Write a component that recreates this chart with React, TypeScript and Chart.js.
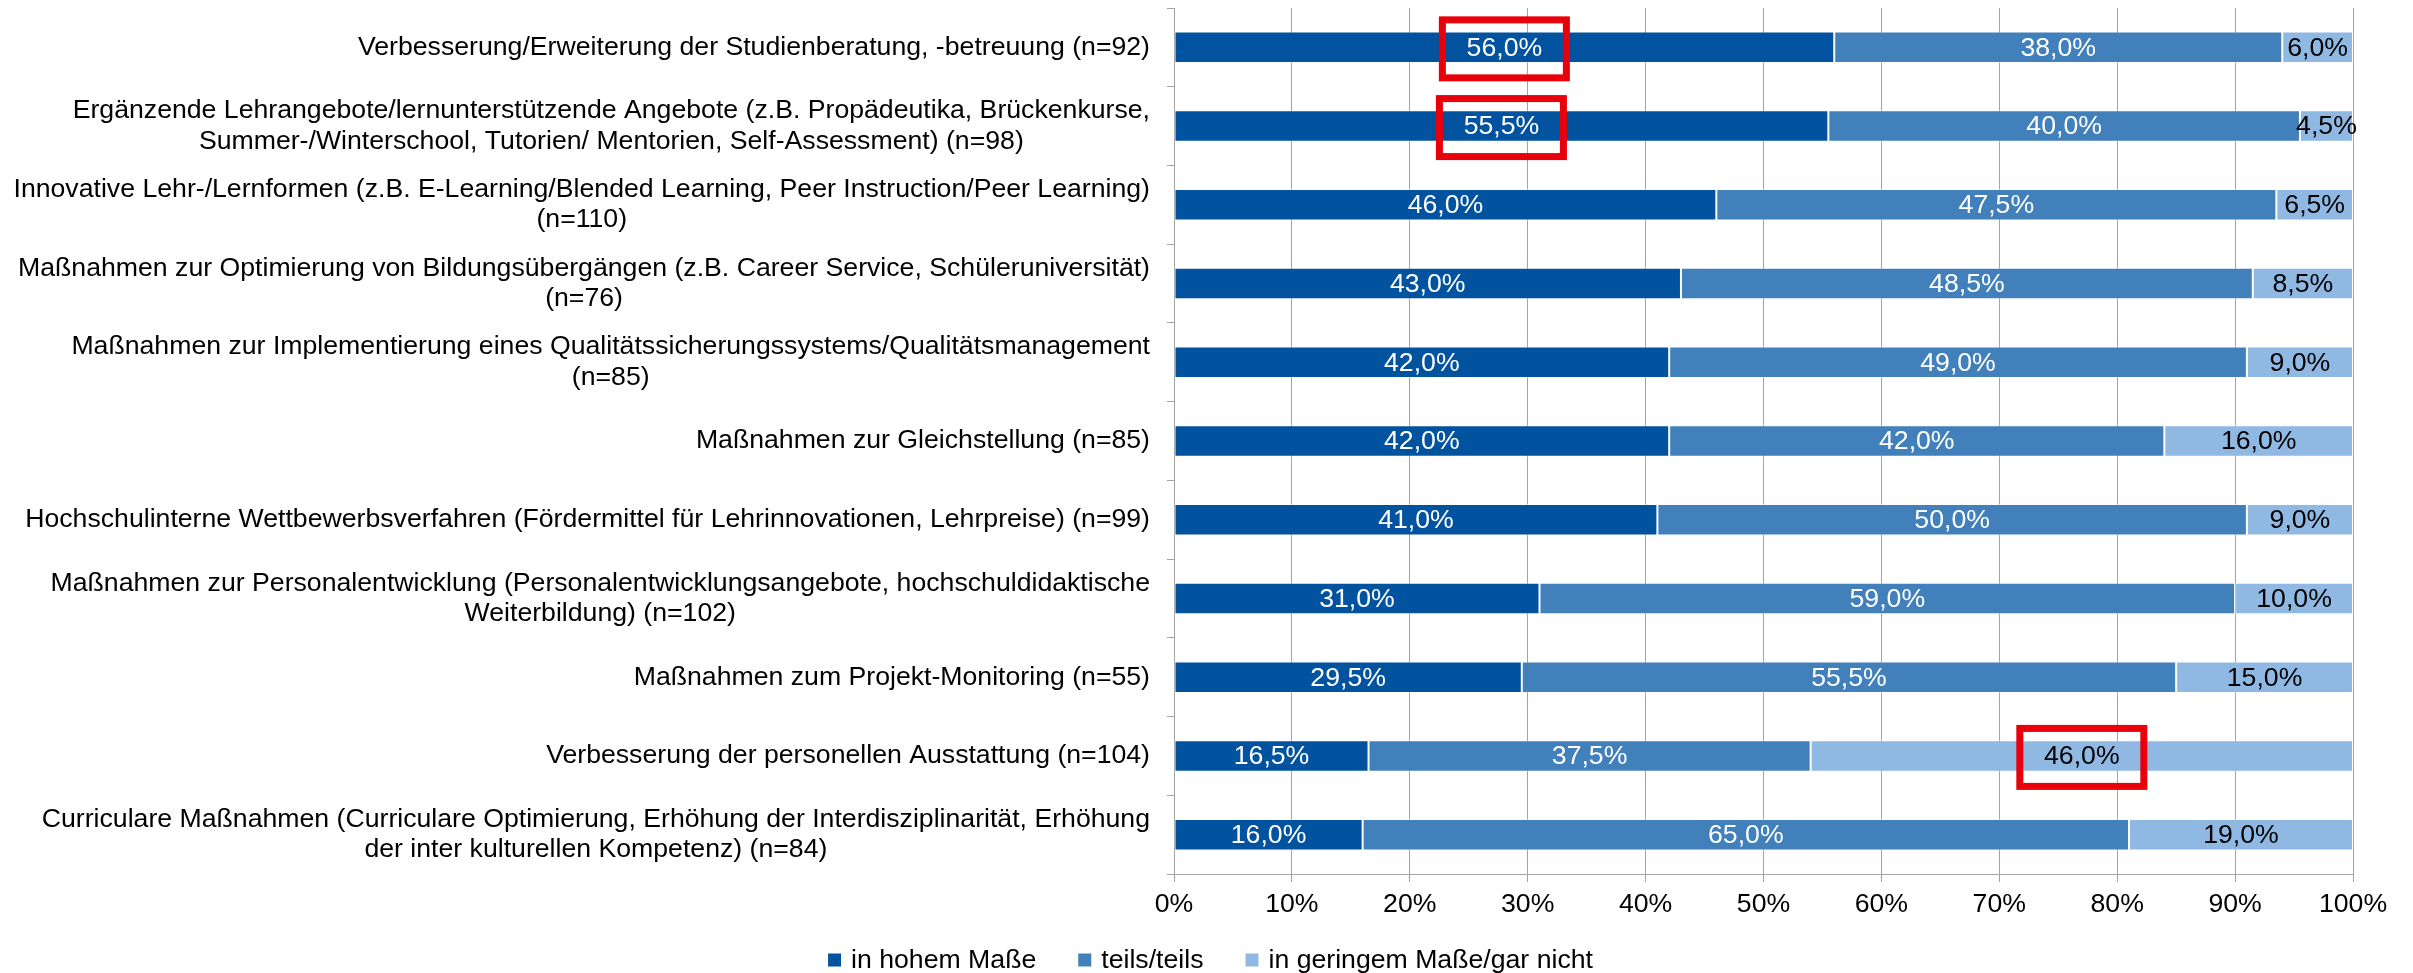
import React, { useEffect, useRef } from 'react';
import { Chart, registerables } from 'chart.js';

Chart.register(...registerables);

// ---------- data ----------
const categories: string[][] = [
  ['Verbesserung/Erweiterung der Studienberatung, -betreuung (n=92)'],
  ['Ergänzende Lehrangebote/lernunterstützende Angebote (z.B. Propädeutika, Brückenkurse,', 'Summer-/Winterschool, Tutorien/ Mentorien, Self-Assessment) (n=98)'],
  ['Innovative Lehr-/Lernformen (z.B. E-Learning/Blended Learning, Peer Instruction/Peer Learning)', '(n=110)'],
  ['Maßnahmen zur Optimierung von Bildungsübergängen (z.B. Career Service, Schüleruniversität)', '(n=76)'],
  ['Maßnahmen zur Implementierung eines Qualitätssicherungssystems/Qualitätsmanagement', '(n=85)'],
  ['Maßnahmen zur Gleichstellung (n=85)'],
  ['Hochschulinterne Wettbewerbsverfahren (Fördermittel für Lehrinnovationen, Lehrpreise) (n=99)'],
  ['Maßnahmen zur Personalentwicklung (Personalentwicklungsangebote, hochschuldidaktische', 'Weiterbildung) (n=102)'],
  ['Maßnahmen zum Projekt-Monitoring (n=55)'],
  ['Verbesserung der personellen Ausstattung (n=104)'],
  ['Curriculare Maßnahmen (Curriculare Optimierung, Erhöhung der Interdisziplinarität, Erhöhung', 'der inter kulturellen Kompetenz) (n=84)'],
];

const inHohemMasse = [56.0, 55.5, 46.0, 43.0, 42.0, 42.0, 41.0, 31.0, 29.5, 16.5, 16.0];
const teilsTeils = [38.0, 40.0, 47.5, 48.5, 49.0, 42.0, 50.0, 59.0, 55.5, 37.5, 65.0];
const inGeringemMasse = [6.0, 4.5, 6.5, 8.5, 9.0, 16.0, 9.0, 10.0, 15.0, 46.0, 19.0];

const seriesNames = ['in hohem Maße', 'teils/teils', 'in geringem Maße/gar nicht'];

// x axis: 0% .. 100% in steps of 10
const xMin = 0;
const xMax = 100;
const xStep = 10;

// labels framed in red in the original: [categoryIndex, seriesIndex]
const highlighted: [number, number][] = [
  [0, 0],
  [1, 0],
  [9, 2],
];

// ---------- styles ----------
const FONT = '"Liberation Sans", Arial, Helvetica, sans-serif';
const FS = 26.67;
const COLORS = ['#02539F', '#4180BA', '#8FB9E3'];
const LABEL_COLORS = ['#FFFFFF', '#FFFFFF', '#000000'];
const GRID = '#A3A3A3';
const W = 2413;
const H = 973;

const fmt = (v: number) => v.toFixed(1).replace('.', ',') + '%';

const categoryLabelPlugin = {
  id: 'categoryLabels',
  afterDraw(chart: any) {
    const ctx = chart.ctx;
    const y = chart.scales.y;
    ctx.save();
    ctx.font = `${FS}px ${FONT}`;
    ctx.fillStyle = '#000';
    ctx.textBaseline = 'middle';
    ctx.textAlign = 'center';
    const right = chart.chartArea.left - 24;
    const lh = 30.5;
    categories.forEach((lines, i) => {
      const cy = y.getPixelForValue(i);
      const maxW = Math.max(...lines.map((l) => ctx.measureText(l).width));
      const cx = right - maxW / 2;
      lines.forEach((l, j) => {
        ctx.fillText(l, cx, cy + (j - (lines.length - 1) / 2) * lh);
      });
    });
    ctx.restore();
  },
};

const valueLabelPlugin = {
  id: 'valueLabels',
  afterDatasetsDraw(chart: any) {
    const ctx = chart.ctx;
    ctx.save();
    ctx.font = `${FS}px ${FONT}`;
    ctx.textAlign = 'center';
    ctx.textBaseline = 'middle';
    chart.data.datasets.forEach((ds: any, di: number) => {
      const meta = chart.getDatasetMeta(di);
      meta.data.forEach((bar: any, i: number) => {
        const { x, y, base } = bar.getProps(['x', 'y', 'base'], true);
        const cx = (x + base) / 2;
        ctx.fillStyle = LABEL_COLORS[di];
        ctx.fillText(fmt(ds.data[i]), cx, y + 1);
        if (highlighted.some(([c, s]) => c === i && s === di)) {
          ctx.strokeStyle = '#E8000B';
          ctx.lineWidth = 7;
          ctx.strokeRect(cx - 62, y + 1.5 - 29, 124, 58);
        }
      });
    });
    ctx.restore();
  },
};

const legendPlugin = {
  id: 'customLegend',
  afterDraw(chart: any) {
    const ctx = chart.ctx;
    ctx.save();
    ctx.font = `${FS}px ${FONT}`;
    ctx.textBaseline = 'middle';
    ctx.textAlign = 'left';
    const box = 13;
    const gapText = 10;
    const gapItem = 42;
    const items = chart.data.datasets.map((d: any) => ({
      text: d.label,
      color: d.backgroundColor,
      w: box + gapText + ctx.measureText(d.label).width,
    }));
    const total = items.reduce((s: number, it: any) => s + it.w, 0) + gapItem * (items.length - 1);
    let x = chart.width / 2 - total / 2 + 4;
    const cy = 960;
    items.forEach((it: any) => {
      ctx.fillStyle = it.color;
      ctx.fillRect(x, cy - box / 2, box, box);
      ctx.fillStyle = '#000';
      ctx.fillText(it.text, x + box + gapText, cy + 1);
      x += it.w + gapItem;
    });
    ctx.restore();
  },
};

export default function App() {
  const ref = useRef<HTMLCanvasElement | null>(null);

  useEffect(() => {
    if (!ref.current) return;
    const series = [inHohemMasse, teilsTeils, inGeringemMasse];
    const chart = new Chart(ref.current, {
      type: 'bar',
      data: {
        labels: categories.map((c) => c.join(' ')),
        datasets: series.map((data, i) => ({
          label: seriesNames[i],
          data,
          backgroundColor: COLORS[i],
          borderColor: 'rgba(255,255,255,0.45)',
          borderWidth: 1,
          borderSkipped: false,
          barPercentage: 0.4,
          categoryPercentage: 1,
        })),
      },
      options: {
        indexAxis: 'y',
        responsive: false,
        animation: false,
        devicePixelRatio: 1,
        layout: { padding: { top: 8, right: 60, bottom: 0, left: 0 } },
        plugins: {
          legend: { display: false },
          tooltip: { enabled: false },
        },
        scales: {
          x: {
            stacked: true,
            min: xMin,
            max: xMax,
            ticks: {
              stepSize: xStep,
              callback: (v: any) => `${v}%`,
              font: { family: FONT, size: FS },
              color: '#000',
              padding: 7,
              maxRotation: 0,
              autoSkip: false,
            },
            grid: { color: GRID, lineWidth: 1, tickLength: 8, drawTicks: true },
            border: { display: true, color: GRID, width: 1 },
            afterFit: (scale: any) => {
              scale.height = 99;
            },
          },
          y: {
            stacked: true,
            ticks: { display: false },
            grid: {
              color: GRID,
              lineWidth: 1,
              drawOnChartArea: false,
              drawTicks: true,
              tickLength: 7,
              offset: true,
            },
            border: { display: true, color: GRID, width: 1 },
            afterFit: (scale: any) => {
              scale.width = 1174;
            },
          },
        },
      },
      plugins: [categoryLabelPlugin, valueLabelPlugin, legendPlugin],
    } as any);
    return () => chart.destroy();
  }, []);

  return (
    <div style={{ position: 'absolute', left: 0, top: 0, width: W, height: H, background: '#fff' }}>
      <canvas ref={ref} width={W} height={H} style={{ display: 'block' }} />
    </div>
  );
}
